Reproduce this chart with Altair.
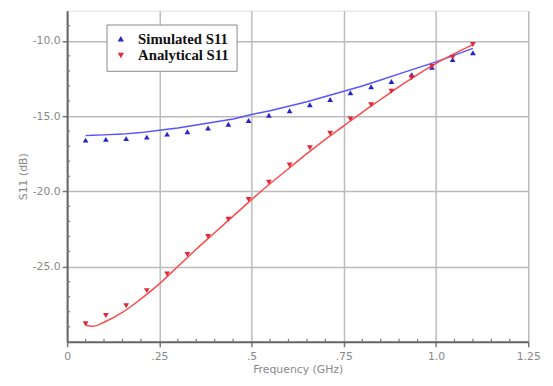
import altair as alt
import pandas as pd

# Marker data
freq_pts = [0.05, 0.105, 0.16, 0.216, 0.271, 0.326, 0.382, 0.437, 0.492, 0.547,
            0.603, 0.658, 0.713, 0.768, 0.824, 0.879, 0.934, 0.989, 1.045, 1.1]
sim_pts = [-16.6, -16.55, -16.5, -16.4, -16.2, -16.05, -15.8, -15.55, -15.3, -14.95,
           -14.65, -14.25, -13.9, -13.45, -13.05, -12.7, -12.25, -11.75, -11.25, -10.8]
ana_pts = [-28.8, -28.25, -27.6, -26.6, -25.5, -24.2, -23.0, -21.85, -20.55, -19.4,
           -18.25, -17.1, -16.15, -15.2, -14.25, -13.35, -12.45, -11.7, -11.1, -10.25]

# Line (fitted curve) data
freq_line = [0.05, 0.07, 0.1, 0.15, 0.2, 0.25, 0.3, 0.35, 0.4, 0.45, 0.5, 0.55,
             0.6, 0.65, 0.7, 0.75, 0.8, 0.85, 0.9, 0.95, 1.0, 1.05, 1.1]
sim_line = [-16.3, -16.28, -16.25, -16.2, -16.1, -15.95, -15.8, -15.6, -15.4, -15.2,
            -14.9, -14.65, -14.35, -14.05, -13.7, -13.35, -13.0, -12.6, -12.2, -11.8,
            -11.4, -10.95, -10.5]
ana_line = [-28.9, -28.97, -28.7, -28.05, -27.15, -26.15, -25.0, -23.85, -22.75, -21.65,
            -20.55, -19.5, -18.5, -17.5, -16.55, -15.65, -14.75, -13.9, -13.05, -12.25,
            -11.5, -10.85, -10.25]

series = ["Simulated S11", "Analytical S11"]
x_major = [0, 0.25, 0.5, 0.75, 1.0, 1.25]
y_major = [-25, -20, -15, -10]
x_minor = [0.05, 0.1, 0.15, 0.2, 0.3, 0.35, 0.4, 0.45, 0.55, 0.6, 0.65, 0.7,
           0.8, 0.85, 0.9, 0.95, 1.05, 1.1, 1.15, 1.2]
y_minor = [-29, -28, -27, -26, -24, -23, -22, -21, -19, -18, -17, -16,
           -14, -13, -12, -11, -9]

W, H = 468, 336

pts = pd.DataFrame({
    "f": freq_pts * 2,
    "s": sim_pts + ana_pts,
    "series": [series[0]] * len(freq_pts) + [series[1]] * len(freq_pts),
})
lines = pd.DataFrame({"f": freq_line, "sim": sim_line, "ana": ana_line})

axis_font = "DejaVu Sans"
common = dict(
    grid=True, labelOverlap=False, labelFlush=False, labelFont=axis_font,
    labelFontSize=11, labelColor="#888888", titleFont=axis_font, titleFontSize=11,
    titleColor="#888888", titleFontWeight="normal",
    domainColor="#666666", domainWidth=2, tickColor="#777777", tickSize=5,
    tickWidth=1.5, gridColor="#bbbbbb", gridWidth=1.5,
)
x_axis = alt.Axis(
    values=x_major, title="Frequency (GHz)",
    labelExpr=("datum.value == 0 ? '0' : datum.value == 1 ? '1.0' : datum.value > 1 ? "
               "'1.25' : replace(format(datum.value, '.2~f'), '0.', '.')"),
    titlePadding=2, labelPadding=4, **common,
)
y_axis = alt.Axis(
    values=y_major, title="S11 (dB)",
    labelExpr="'-' + format(abs(datum.value), '.1f')",
    titlePadding=4, labelPadding=2, **common,
)

x_scale = alt.Scale(domain=[0, 1.25], nice=False, zero=False)
y_scale = alt.Scale(domain=[-30, -8], nice=False, zero=False)

base_lines = alt.Chart(lines)
blue_line = base_lines.mark_line(color="#5555ff", strokeWidth=1.5).encode(
    x=alt.X("f:Q", scale=x_scale, axis=x_axis),
    y=alt.Y("sim:Q", scale=y_scale, axis=y_axis),
)
red_line = base_lines.mark_line(color="#ff4a4a", strokeWidth=1.5, interpolate="monotone").encode(
    x=alt.X("f:Q", scale=x_scale),
    y=alt.Y("ana:Q", scale=y_scale),
)

x_minor_ticks = alt.Chart(pd.DataFrame({"v": x_minor})).mark_rule(
    color="#777777", strokeWidth=1.2).encode(
    x=alt.X("v:Q", scale=x_scale),
    y=alt.value(H - 3), y2=alt.value(H),
)
y_minor_ticks = alt.Chart(pd.DataFrame({"v": y_minor})).mark_rule(
    color="#777777", strokeWidth=1.2).encode(
    y=alt.Y("v:Q", scale=y_scale),
    x=alt.value(0), x2=alt.value(3),
)

leg = alt.Legend(title=None, orient="none", legendX=40, legendY=14,
                 labelFont="Liberation Serif", labelFontSize=15,
                 labelFontWeight="bold", labelColor="#111111",
                 strokeColor="#888888", padding=7, fillColor="white",
                 symbolSize=40, rowPadding=1, labelOffset=10)

points = alt.Chart(pts).mark_point(filled=True, size=34, opacity=1).encode(
    x=alt.X("f:Q", scale=x_scale),
    y=alt.Y("s:Q", scale=y_scale),
    color=alt.Color("series:N", sort=series,
                    scale=alt.Scale(domain=series, range=["#2424c8", "#e0283a"]),
                    legend=leg),
    shape=alt.Shape("series:N", sort=series,
                    scale=alt.Scale(domain=series, range=["triangle-up", "triangle-down"]),
                    legend=leg),
)

chart = alt.layer(blue_line, red_line, x_minor_ticks, y_minor_ticks, points).properties(
    width=W, height=H,
    autosize=alt.AutoSizeParams(type="none"),
    padding={"left": 60, "top": 0, "right": 17, "bottom": 34},
).configure_view(stroke="#999999", strokeWidth=1.5).configure(background="white")

chart.save("out.html", embed_options={"renderer": "svg", "actions": False})
